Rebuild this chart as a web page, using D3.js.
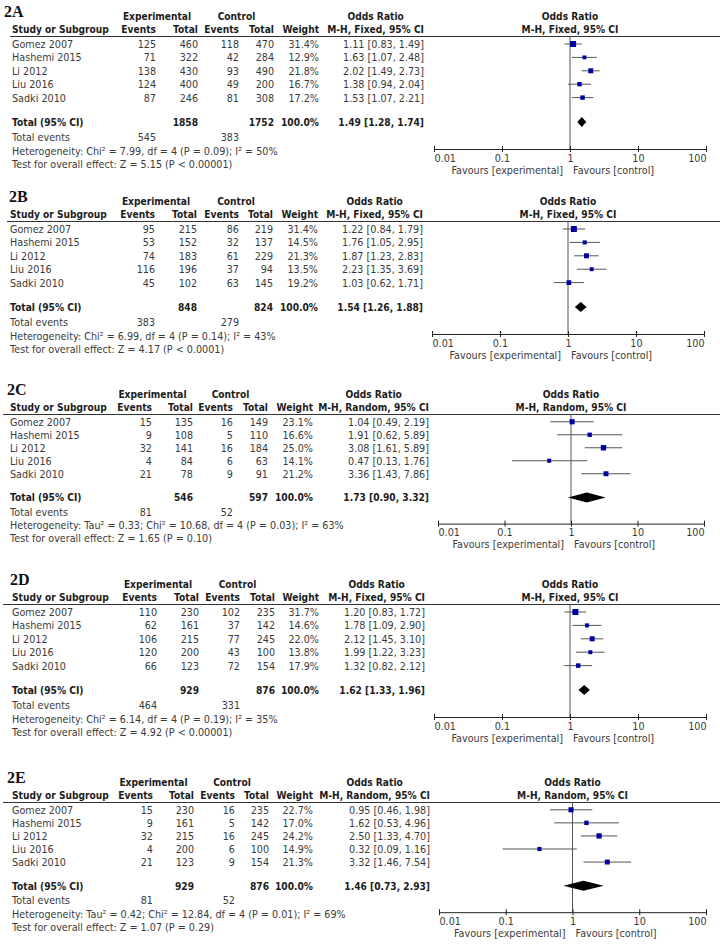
<!DOCTYPE html>
<html><head><meta charset="utf-8">
<script src="https://cdn.jsdelivr.net/npm/d3@7"></script>
<style>body{margin:0;background:#fff}svg{display:block}</style></head>
<body>
<script>
// ---------- DATA ----------
const panelLabels = ["2A","2B","2C","2D","2E"];
const methods = ["Fixed","Fixed","Random","Fixed","Random"];
const studies = ["Gomez 2007","Hashemi 2015","Li 2012","Liu 2016","Sadki 2010"];
const expEvents = [[125,71,138,124,87],[95,53,74,116,45],[15,9,32,4,21],[110,62,106,120,66],[15,9,32,4,21]];
const expTotal  = [[460,322,430,400,246],[215,152,183,196,102],[135,108,141,84,78],[230,161,215,200,123],[230,161,215,200,123]];
const ctlEvents = [[118,42,93,49,81],[86,32,61,37,63],[16,5,16,6,9],[102,37,77,43,72],[16,5,16,6,9]];
const ctlTotal  = [[470,284,490,200,308],[219,137,229,94,145],[149,110,184,63,91],[235,142,245,100,154],[235,142,245,100,154]];
const weights   = [[31.4,12.9,21.8,16.7,17.2],[31.4,14.5,21.3,13.5,19.2],[23.1,16.6,25.0,14.1,21.2],[31.7,14.6,22.0,13.8,17.9],[22.7,17.0,24.2,14.9,21.3]];
const orValues  = [[1.11,1.63,2.02,1.38,1.53],[1.22,1.76,1.87,2.23,1.03],[1.04,1.91,3.08,0.47,3.36],[1.20,1.78,2.12,1.99,1.32],[0.95,1.62,2.50,0.32,3.32]];
const ciLow     = [[0.83,1.07,1.49,0.94,1.07],[0.84,1.05,1.23,1.35,0.62],[0.49,0.62,1.61,0.13,1.43],[0.83,1.09,1.45,1.22,0.82],[0.46,0.53,1.33,0.09,1.46]];
const ciHigh    = [[1.49,2.48,2.73,2.04,2.21],[1.79,2.95,2.83,3.69,1.71],[2.19,5.89,5.89,1.76,7.86],[1.72,2.90,3.10,3.23,2.12],[1.98,4.96,4.70,1.16,7.54]];
const totalExp  = [1858,848,546,929,929];
const totalCtl  = [1752,824,597,876,876];
const totalWeight = [100.0,100.0,100.0,100.0,100.0];
const totalOR   = [1.49,1.54,1.73,1.62,1.46];
const totalLow  = [1.28,1.26,0.90,1.33,0.73];
const totalHigh = [1.74,1.88,3.32,1.96,2.93];
const eventsExp = [545,383,81,464,81];
const eventsCtl = [383,279,52,331,52];
const heterogeneity = [
  "Heterogeneity: Chi² = 7.99, df = 4 (P = 0.09); I² = 50%",
  "Heterogeneity: Chi² = 6.99, df = 4 (P = 0.14); I² = 43%",
  "Heterogeneity: Tau² = 0.33; Chi² = 10.68, df = 4 (P = 0.03); I² = 63%",
  "Heterogeneity: Chi² = 6.14, df = 4 (P = 0.19); I² = 35%",
  "Heterogeneity: Tau² = 0.42; Chi² = 12.84, df = 4 (P = 0.01); I² = 69%"
];
const overallEffect = [
  "Test for overall effect: Z = 5.15 (P < 0.00001)",
  "Test for overall effect: Z = 4.17 (P < 0.0001)",
  "Test for overall effect: Z = 1.65 (P = 0.10)",
  "Test for overall effect: Z = 4.92 (P < 0.00001)",
  "Test for overall effect: Z = 1.07 (P = 0.29)"
];
const axisTicks = [0.01,0.1,1,10,100];
const axisTickLabels = ["0.01","0.1","1","10","100"];

// ---------- LAYOUT ----------
const layout = [
  {hl:36,  sy:1,     lx:4,  line0:10, cols:[12,156,198,239,274,319,424], plot:[434,706]},
  {hl:221, sy:1,     lx:9,  line0:7,  cols:[10,155,197,239,273,318,423], plot:[432,704]},
  {hl:414, sy:0.97,  lx:7,  line0:3,  cols:[10,152,193,233,268,313,429], plot:[438,704]},
  {hl:604, sy:1,     lx:10, line0:3,  cols:[12,157,199,240,275,319,425], plot:[434,706]},
  {hl:802, sy:0.975, lx:7,  line0:3,  cols:[12,153,194,235,269,313,430], plot:[439,706]}
];
const FS = 11, SXR = 0.875, SXB = 0.83;
const FONT = "'DejaVu Sans', Verdana, sans-serif";
const TXT = "#3a3a3a", BOLD = "#1c1c1c";

const svg = d3.select("body").append("svg").attr("width",720).attr("height",949);
svg.append("rect").attr("width",720).attr("height",949).attr("fill","#fff");

function txt(g, x, y, s, anchor, bold){
  return g.append("text")
    .attr("transform",`translate(${x},${y}) scale(${bold?SXB:SXR},1)`)
    .attr("text-anchor", anchor||"start")
    .attr("font-family", FONT).attr("font-size", FS)
    .attr("font-weight", bold?"bold":"normal")
    .attr("fill", bold?BOLD:TXT)
    .text(s);
}
const f2 = v => v.toFixed(2);

layout.forEach((L, p) => {
  const g = svg.append("g");
  const hl = L.hl, sy = L.sy, c = L.cols;
  const Y = d => hl + d*sy;
  const x = d3.scaleLog().domain([0.01,100]).range(L.plot);
  const x1 = x(1);

  // panel label
  g.append("text").attr("x",L.lx).attr("y",hl-19)
    .attr("font-family","'Liberation Serif','Times New Roman',serif")
    .attr("font-weight","bold").attr("font-size",16).attr("fill","#111")
    .text(panelLabels[p]);

  // headers
  const hy1 = hl-16, hy2 = hl-3.2;
  txt(g,(c[1]+c[2])/2-20,hy1,"Experimental","middle",true);
  txt(g,(c[3]+c[4])/2-20,hy1,"Control","middle",true);
  const mh = txt(g,c[6],hy2,`M-H, ${methods[p]}, 95% CI`,"end",true);
  const mhw = mh.node().getComputedTextLength()*SXB;
  txt(g,c[6]-mhw/2,hy1,"Odds Ratio","middle",true);
  txt(g,c[0],hy2,"Study or Subgroup","start",true);
  txt(g,c[1],hy2,"Events","end",true);
  txt(g,c[2],hy2,"Total","end",true);
  txt(g,c[3],hy2,"Events","end",true);
  txt(g,c[4],hy2,"Total","end",true);
  txt(g,c[5],hy2,"Weight","end",true);
  txt(g,x1,hy1,"Odds Ratio","middle",true);
  txt(g,x1,hy2,`M-H, ${methods[p]}, 95% CI`,"middle",true);

  g.append("line").attr("x1",L.line0).attr("x2",720).attr("y1",hl+0.5).attr("y2",hl+0.5)
    .attr("stroke","#333").attr("stroke-width",1);

  const axisY = Y(113);
  // vertical line of no effect
  g.append("line").attr("x1",x1).attr("x2",x1).attr("y1",hl).attr("y2",axisY)
    .attr("stroke","#555").attr("stroke-width",1);

  // study rows
  studies.forEach((s,i) => {
    const cy = Y(8 + 13.4*i), by = cy + 3.9;
    txt(g,c[0],by,s);
    txt(g,c[1],by,expEvents[p][i],"end");
    txt(g,c[2],by,expTotal[p][i],"end");
    txt(g,c[3],by,ctlEvents[p][i],"end");
    txt(g,c[4],by,ctlTotal[p][i],"end");
    txt(g,c[5],by,weights[p][i].toFixed(1)+"%","end");
    txt(g,c[6],by,`${f2(orValues[p][i])} [${f2(ciLow[p][i])}, ${f2(ciHigh[p][i])}]`,"end");
    g.append("line").attr("x1",x(ciLow[p][i])).attr("x2",x(ciHigh[p][i]))
      .attr("y1",cy).attr("y2",cy).attr("stroke","#555").attr("stroke-width",1);
    const side = 1.07*Math.sqrt(weights[p][i]);
    g.append("rect").attr("x",x(orValues[p][i])-side/2).attr("y",cy-side/2)
      .attr("width",side).attr("height",side).attr("fill","#0000a0");
  });

  // total row
  const ty = Y(86), tby = ty + 3.9;
  txt(g,c[0],tby,"Total (95% CI)","start",true);
  txt(g,c[2],tby,totalExp[p],"end",true);
  txt(g,c[4],tby,totalCtl[p],"end",true);
  txt(g,c[5],tby,totalWeight[p].toFixed(1)+"%","end",true);
  txt(g,c[6],tby,`${f2(totalOR[p])} [${f2(totalLow[p])}, ${f2(totalHigh[p])}]`,"end",true);
  const dh = 5;
  g.append("path").attr("d",
    `M${x(totalLow[p])},${ty} L${x(totalOR[p])},${ty-dh} L${x(totalHigh[p])},${ty} L${x(totalOR[p])},${ty+dh} Z`)
    .attr("fill","#000");

  const ey = Y(101)+3.9;
  txt(g,c[0],ey,"Total events");
  txt(g,c[1],ey,eventsExp[p],"end");
  txt(g,c[3],ey,eventsCtl[p],"end");
  txt(g,c[0],Y(115)+3.9,heterogeneity[p]);
  txt(g,c[0],Y(128)+3.9,overallEffect[p]);

  // axis
  const ax = g.append("g").attr("transform",`translate(0,${axisY})`)
    .call(d3.axisBottom(x).tickValues(axisTicks).tickFormat((d,i)=>axisTickLabels[i]).tickSize(3).tickSizeOuter(0));
  ax.select(".domain").attr("stroke","#222");
  ax.selectAll(".tick line").attr("y1",-3).attr("y2",3).attr("stroke","#222");
  ax.selectAll(".tick text")
    .attr("font-family",FONT).attr("font-size",FS).attr("fill",TXT)
    .attr("y",0).attr("dy",null)
    .attr("transform",`translate(0,12.8) scale(${SXR},1)`)
    .attr("text-anchor",(d,i)=> i===0?"start":(i===axisTicks.length-1?"end":"middle"));
  txt(g,x1-7,axisY+24.8,"Favours [experimental]","end");
  txt(g,x1+3,axisY+24.8,"Favours [control]","start");
});
</script>
</body></html>
